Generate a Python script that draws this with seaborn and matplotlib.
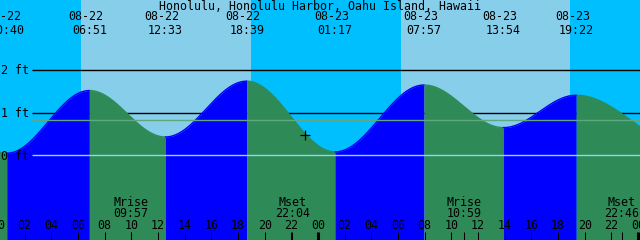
import numpy as np
import pandas as pd
import matplotlib
matplotlib.use("Agg")
import matplotlib.pyplot as plt
import seaborn as sns

# ---------------- data ----------------
title = "Honolulu, Honolulu Harbor, Oahu Island, Hawaii"
# tide extremes: hours since 08-22 00:00, heights in ft
tide_hours = [-6.2, 0.667, 6.85, 12.55, 18.65, 25.283, 31.95, 37.9, 43.367, 51.5]
tide_heights = [1.55, 0.05, 1.52, 0.43, 1.74, 0.08, 1.65, 0.65, 1.41, 0.25]
event_dates = ["08-22", "08-22", "08-22", "08-22", "08-23", "08-23", "08-23", "08-23"]
event_clock = ["00:40", "06:51", "12:33", "18:39", "01:17", "07:57", "13:54", "19:22"]
sunrise_hours = [6.225, 30.225]
sunset_hours = [18.95, 42.9]
moon_hours = [9.95, 22.067, 34.983, 46.767]
moon_names = ["Mrise", "Mset", "Mrise", "Mset"]
moon_clock = ["09:57", "22:04", "10:59", "22:46"]
tick_hours = list(range(0, 50, 2))
tick_labels = [f"{h % 24:02d}" for h in tick_hours]
datum_levels = [2, 1, 0]
datum_labels = ["2 ft", "1 ft", "0 ft"]
msl_level = 0.82
now_hour, now_height = 23.03, 0.476

# ---------------- geometry helpers ----------------
W, H = 640, 240
X0, PXH = 0.15, 13.333   # hour at left edge, pixels per hour
Y0, PXF = 155.3, 42.6    # pixel row of 0 ft, pixels per ft
def hx(px):
    return X0 + px / PXH
def fy(py):
    return (Y0 - py) / PXF

NIGHT, DAY = "#00BFFF", "#87CEEB"
RISE, FALL = "#0000FF", "#2E8B57"

sns.set_theme(style="white")
plt.rcParams["font.family"] = ["DejaVu Sans Mono"]
fig = plt.figure(figsize=(W / 100, H / 100), dpi=100)
fig.patch.set_facecolor(NIGHT)
ax = fig.add_axes([0, 0, 1, 1])
ax.set_xlim(hx(0), hx(W))
ax.set_ylim(fy(H), fy(0))
ax.axis("off")

ax.axvspan(hx(-10), hx(W + 10), color=NIGHT, lw=0, zorder=0)
for sr, ss in zip(sunrise_hours, sunset_hours):
    ax.axvspan(sr, ss, color=DAY, lw=0, zorder=0)

# black datum lines behind water
for lv in datum_levels[:2]:
    ax.hlines(lv, hx(32), hx(W), color="black", lw=1.0, zorder=1)

# tide curve (half-cosine between extremes)
rows = []
for i in range(len(tide_hours) - 1):
    t0, t1 = tide_hours[i], tide_hours[i + 1]
    h0, h1 = tide_heights[i], tide_heights[i + 1]
    t = np.linspace(t0, t1, 200)
    f = (t - t0) / (t1 - t0)
    hh = h0 + (h1 - h0) * (1 - np.cos(np.pi * f)) / 2
    rows.append(pd.DataFrame({"hour": t, "height": hh, "seg": i,
                              "phase": "rise" if h1 > h0 else "fall"}))
df = pd.concat(rows, ignore_index=True)
bottom = fy(H)
for seg, d in df.groupby("seg"):
    col = RISE if d["phase"].iloc[0] == "rise" else FALL
    ax.fill_between(d["hour"], d["height"], bottom, color=col, lw=0, zorder=2)
sns.lineplot(data=df, x="hour", y="height", units="seg", estimator=None,
             hue="phase", palette={"rise": RISE, "fall": FALL}, lw=1.0,
             legend=False, ax=ax, zorder=2)
ax.set_xlim(hx(0), hx(W))
ax.set_ylim(fy(H), fy(0))

# 0 ft and MSL lines over water
ax.hlines(0, hx(32), hx(W), color="#8fd6ee", lw=1.0, zorder=3)
ax.hlines(msl_level, hx(32), hx(W), color="#5fa77f", lw=1.0, zorder=3)

fs = 8.4
txt = dict(fontsize=fs, color="black", zorder=4, family="DejaVu Sans Mono")
ax.text(hx(320), fy(9.5), title, ha="center", va="baseline", **txt)
for lv, lab in zip(datum_levels, datum_labels):
    ax.text(hx(1), lv - 4.3 / PXF, lab, ha="left", va="baseline", **txt)

for th, d, c in zip(tide_hours[1:-1], event_dates, event_clock):
    ax.text(th - 3.5 / PXH, fy(20.5), d, ha="center", va="baseline", **txt)
    ax.text(th, fy(34), c, ha="center", va="baseline", **txt)

for mh, n, c in zip(moon_hours, moon_names, moon_clock):
    ax.text(mh, fy(206), n, ha="center", va="baseline", **txt)
    ax.text(mh, fy(217), c, ha="center", va="baseline", **txt)
    ax.vlines(mh, fy(240), fy(232), color="black", lw=0.75, zorder=4)

for th, lab in zip(tick_hours, tick_labels):
    ax.text(th, fy(229), lab, ha="center", va="baseline", **txt)
    if th > 0:
        lw = 2.2 if th % 24 == 0 else 0.75
        ax.vlines(th, fy(240), fy(232), color="black", lw=lw, zorder=4)

sns.scatterplot(x=[now_hour], y=[now_height], marker="+", s=60, color="black",
                linewidth=0.9, ax=ax, zorder=5)
ax.set_xlim(hx(0), hx(W))
ax.set_ylim(fy(H), fy(0))
ax.axis("off")

fig.savefig("out.png", dpi=100, facecolor=NIGHT)
